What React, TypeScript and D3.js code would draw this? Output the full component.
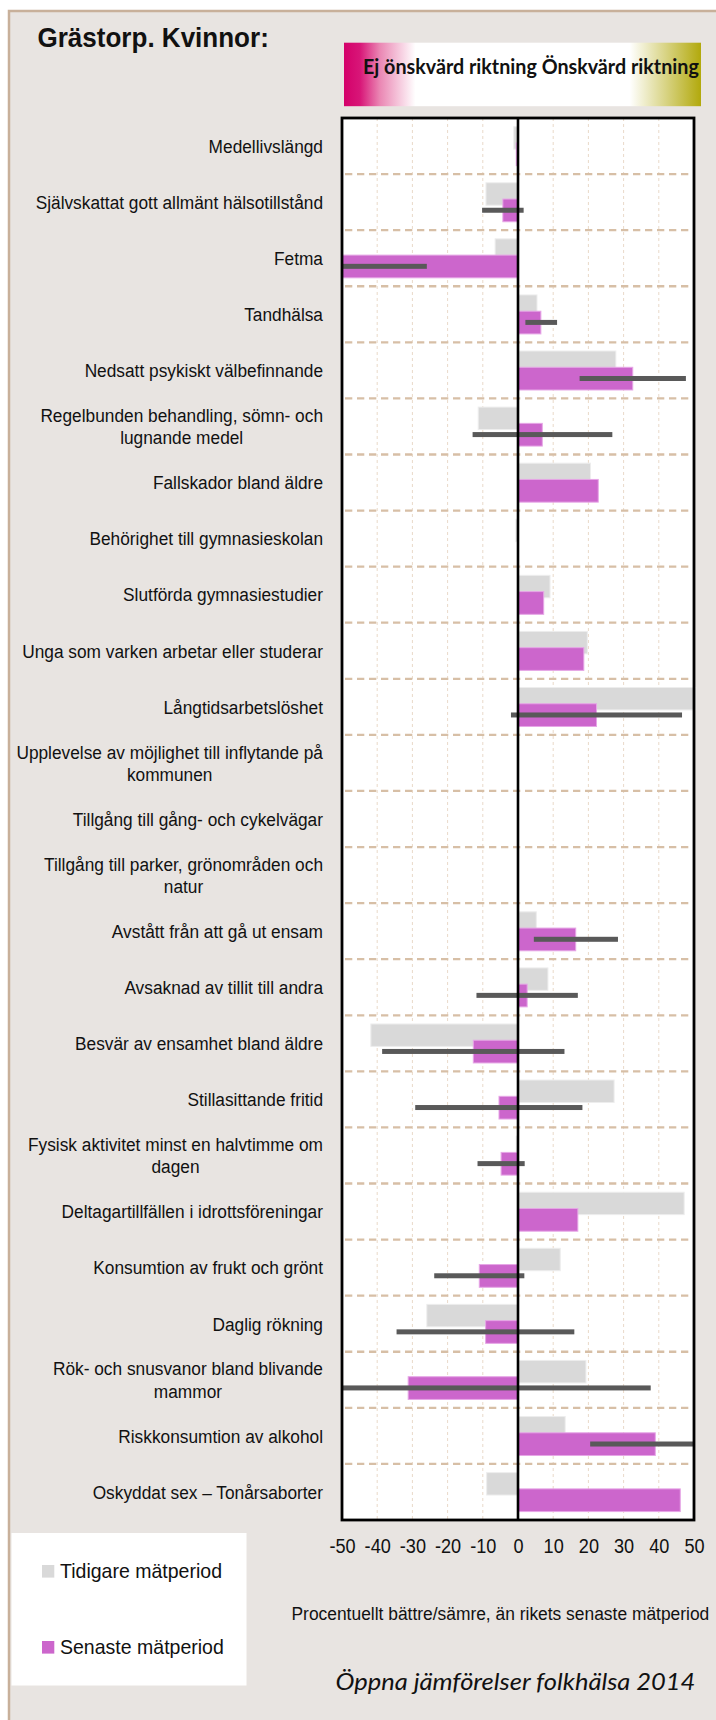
import React, { useRef, useEffect } from 'react';
import * as d3 from 'd3';

// Indicators, top to bottom ("\n" = wrapped label)
const categories = [
  'Medellivslängd',
  'Självskattat gott allmänt hälsotillstånd',
  'Fetma',
  'Tandhälsa',
  'Nedsatt psykiskt välbefinnande',
  'Regelbunden behandling, sömn- och\nlugnande medel',
  'Fallskador bland äldre',
  'Behörighet till gymnasieskolan',
  'Slutförda gymnasiestudier',
  'Unga som varken arbetar eller studerar',
  'Långtidsarbetslöshet',
  'Upplevelse av möjlighet till inflytande på\nkommunen',
  'Tillgång till gång- och cykelvägar',
  'Tillgång till parker, grönområden och\nnatur',
  'Avstått från att gå ut ensam',
  'Avsaknad av tillit till andra ',
  'Besvär av ensamhet bland äldre',
  'Stillasittande fritid',
  'Fysisk aktivitet minst en halvtimme om\ndagen',
  'Deltagartillfällen i idrottsföreningar',
  'Konsumtion av frukt och grönt',
  'Daglig rökning',
  'Rök- och snusvanor bland blivande\nmammor',
  'Riskkonsumtion av alkohol',
  'Oskyddat sex – Tonårsaborter',
];

// Tidigare mätperiod (grey)
const tidigare = [
  -1.2, -9.1, -6.5, 5.4, 27.8, -11.3, 20.6, -0.6, 9.1, 19.7, 50.5, null, null,
  null, 5.2, 8.5, -41.8, 27.3, -0.5, 47.2, 12, -25.9, 19.3, 13.4, -8.9,
];

// Senaste mätperiod (pink)
const senaste = [
  -0.5, -4.3, -50, 6.5, 32.6, 6.9, 22.8, null, 7.3, 18.7, 22.3, null, null,
  null, 16.4, 2.6, -12.7, -5.4, -4.8, 17, -11, -9.2, -31.2, 39, 46.1,
];

// interval around the latest value
const felLag = [
  null, -10.2, -50, 2.1, 17.5, -12.9, null, null, null, null, -2, null, null,
  null, 4.5, -11.8, -38.6, -29.2, -11.5, null, -23.8, -34.5, -50, 20.5, null,
];
const felHog = [
  null, 1.6, -25.9, 11.1, 47.7, 26.8, null, null, null, null, 46.6, null, null,
  null, 28.4, 17, 13.2, 18.3, 1.9, null, 1.8, 16, 37.7, 50, null,
];

const xTicks = [-50, -40, -30, -20, -10, 0, 10, 20, 30, 40, 50];

const W = 716;
const H = 1720;
const SQ = 0.93; // the original picture is slightly squeezed horizontally
const FONT = "'Liberation Sans', Arial, sans-serif";
const CAL = "Lato, 'Open Sans', sans-serif";

const App = () => {
  const svgRef = useRef(null);

  useEffect(() => {
    if (!svgRef.current) return;
    const svg = d3.select(svgRef.current);
    svg.selectAll('*').remove();

    // text squeezed/stretched to span a given width
    const fitText = (txt, x0, y0, width, attrs) => {
      const t = svg.append('text').attr('fill', '#111').text(txt);
      Object.entries(attrs).forEach(([k, v]) => t.attr(k, v));
      const w = t.node().getComputedTextLength() || width;
      t.attr('transform', `translate(${x0},${y0}) scale(${width / w},1)`);
      return t;
    };

    const plot = { left: 342, right: 694, top: 118, bottom: 1520 };

    const x = d3.scaleLinear().domain([-50, 50]).range([plot.left, plot.right]);
    const y = d3.scaleBand().domain(categories).range([plot.top, plot.bottom]);
    const bw = y.bandwidth();

    // gradient for the direction box
    const grad = svg.append('defs').append('linearGradient').attr('id', 'dirGrad');
    [
      [0, '#d4006a'],
      [0.045, '#d81678'],
      [0.1, '#ea86b3'],
      [0.2, '#ffffff'],
      [0.8, '#ffffff'],
      [1, '#b2a90c'],
    ].forEach(([o, c]) => grad.append('stop').attr('offset', o).attr('stop-color', c));

    // background panel
    svg.append('rect').attr('width', W).attr('height', H).attr('fill', '#fff');
    svg.append('rect')
      .attr('x', 9).attr('y', 11)
      .attr('width', W + 20).attr('height', H + 20)
      .attr('fill', '#e8e4e1')
      .attr('stroke', '#c8b09a')
      .attr('stroke-width', 2.5);

    // title
    svg.append('text')
      .attr('transform', `translate(37.5,46.7) scale(${SQ},1)`)
      .attr('font-family', FONT)
      .attr('font-weight', 'bold')
      .attr('font-size', 28)
      .attr('fill', '#111')
      .text('Grästorp. Kvinnor:');

    // direction box
    svg.append('rect')
      .attr('x', 344).attr('y', 42.7)
      .attr('width', 357).attr('height', 63.5)
      .attr('fill', 'url(#dirGrad)');
    fitText('Ej önskvärd riktning Önskvärd riktning', 363, 74, 336, {
      'font-family': CAL,
      'font-weight': 'bold',
      'font-size': 21,
    });

    // plot area
    svg.append('rect')
      .attr('x', plot.left).attr('y', plot.top)
      .attr('width', plot.right - plot.left).attr('height', plot.bottom - plot.top)
      .attr('fill', '#fff');

    // vertical grid
    svg.append('g')
      .selectAll('line')
      .data(xTicks.filter(t => t !== 0 && Math.abs(t) !== 50))
      .join('line')
      .attr('x1', d => x(d)).attr('x2', d => x(d))
      .attr('y1', plot.top).attr('y2', plot.bottom)
      .attr('stroke', '#e9d9c9')
      .attr('stroke-width', 1)
      .attr('stroke-dasharray', '3 3');

    // row separators
    svg.append('g')
      .selectAll('line')
      .data(categories.slice(1))
      .join('line')
      .attr('x1', plot.left + 3).attr('x2', plot.right - 4)
      .attr('y1', d => y(d)).attr('y2', d => y(d))
      .attr('stroke', '#d7bfa6')
      .attr('stroke-width', 2.3)
      .attr('stroke-dasharray', '7.3 4.7');

    const barX = v => Math.min(x(0), x(v));
    const barW = v => Math.abs(x(v) - x(0));

    // earlier period
    svg.append('g')
      .selectAll('rect')
      .data(categories.map((c, i) => ({ c, v: tidigare[i] })).filter(d => d.v !== null))
      .join('rect')
      .attr('x', d => barX(d.v))
      .attr('y', d => y(d.c) + bw * 0.155)
      .attr('width', d => barW(d.v))
      .attr('height', bw * 0.4)
      .attr('fill', '#d9d9d9')
      .attr('stroke', '#ededed')
      .attr('stroke-width', 1);

    // latest period
    svg.append('g')
      .selectAll('rect')
      .data(categories.map((c, i) => ({ c, v: senaste[i] })).filter(d => d.v !== null))
      .join('rect')
      .attr('x', d => barX(d.v))
      .attr('y', d => y(d.c) + bw * 0.445)
      .attr('width', d => barW(d.v))
      .attr('height', bw * 0.405)
      .attr('fill', '#cc66cc')
      .attr('stroke', '#e6a6e6')
      .attr('stroke-width', 1);

    // interval bars
    svg.append('g')
      .selectAll('rect')
      .data(categories.map((c, i) => ({ c, lo: felLag[i], hi: felHog[i] })).filter(d => d.lo !== null))
      .join('rect')
      .attr('x', d => x(d.lo))
      .attr('y', d => y(d.c) + bw * 0.645 - 2.5)
      .attr('width', d => x(d.hi) - x(d.lo))
      .attr('height', 5)
      .attr('fill', '#595959');

    // zero line and frame
    svg.append('line')
      .attr('x1', x(0)).attr('x2', x(0))
      .attr('y1', plot.top).attr('y2', plot.bottom)
      .attr('stroke', '#000')
      .attr('stroke-width', 2.6);
    svg.append('rect')
      .attr('x', plot.left).attr('y', plot.top)
      .attr('width', plot.right - plot.left).attr('height', plot.bottom - plot.top)
      .attr('fill', 'none')
      .attr('stroke', '#000')
      .attr('stroke-width', 2.8);

    // category labels: block right aligned, wrapped lines centred
    const lineH = 22.3;
    categories.forEach(c => {
      const lines = c.split('\n');
      const cy = y(c) + bw / 2;
      const g = svg.append('g')
        .attr('transform', `translate(323,${cy}) scale(${SQ},1)`)
        .attr('font-family', FONT)
        .attr('font-size', 18.6)
        .attr('fill', '#111');
      const texts = lines.map((l, k) =>
        g.append('text')
          .attr('text-anchor', 'end')
          .attr('y', 6.8 + (k - (lines.length - 1) / 2) * lineH)
          .text(l)
      );
      if (lines.length > 1) {
        const maxW = d3.max(texts, t => t.node().getComputedTextLength());
        texts.forEach(t => t.attr('text-anchor', 'middle').attr('x', -maxW / 2));
      }
    });

    // x axis labels
    const axis = svg.append('g')
      .attr('transform', `translate(0,${plot.bottom})`)
      .call(d3.axisBottom(x).tickValues(xTicks).tickSize(0).tickPadding(19).tickFormat(d => String(d)));
    axis.select('.domain').remove();
    axis.selectAll('text')
      .attr('font-family', FONT)
      .attr('font-size', 19.5)
      .attr('fill', '#111')
      .attr('transform', `scale(${SQ},1)`);

    fitText('Procentuellt bättre/sämre, än rikets senaste mätperiod', 291.5, 1620, 418, {
      'font-family': FONT,
      'font-size': 18.6,
    });

    // legend
    svg.append('rect')
      .attr('x', 11.5).attr('y', 1533)
      .attr('width', 235).attr('height', 152.5)
      .attr('fill', '#fff');
    const legend = [
      { name: 'Tidigare mätperiod', color: '#d9d9d9', y: 1578 },
      { name: 'Senaste mätperiod', color: '#cc66cc', y: 1654 },
    ];
    legend.forEach(l => {
      svg.append('rect')
        .attr('x', 42).attr('y', l.y - 13)
        .attr('width', 12.3).attr('height', 12.6)
        .attr('fill', l.color);
      svg.append('text')
        .attr('transform', `translate(60,${l.y}) scale(${SQ},1)`)
        .attr('font-family', FONT)
        .attr('font-size', 21)
        .attr('fill', '#111')
        .text(l.name);
    });

    // source
    fitText('Öppna jämförelser folkhälsa 2014', 335.5, 1690, 360, {
      'font-family': CAL,
      'font-style': 'italic',
      'font-size': 23,
    });
  }, []);

  return (
    <svg
      ref={svgRef}
      width={W}
      height={H}
      style={{ position: 'absolute', left: 0, top: 0, display: 'block' }}
    />
  );
};

export default App;
